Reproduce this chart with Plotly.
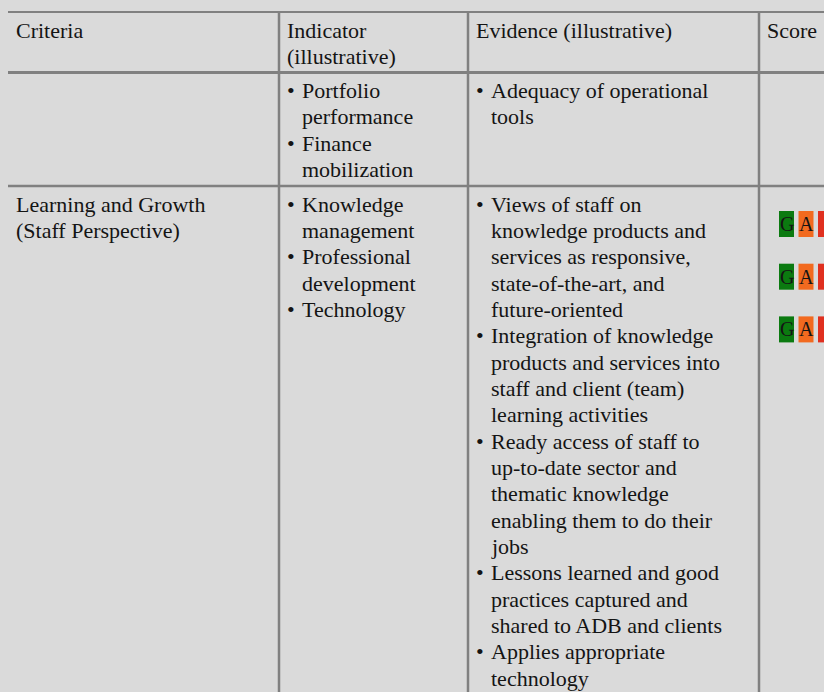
import plotly.graph_objects as go

# ---------------- data ----------------
header_lines = [
    ["Criteria"],
    ["Indicator", "(illustrative)"],
    ["Evidence (illustrative)"],
    ["Score"],
]

row1_criteria = []
row1_indicators = [["Portfolio", "performance"], ["Finance", "mobilization"]]
row1_evidence = [["Adequacy of operational", "tools"]]

row2_criteria = ["Learning and Growth", "(Staff Perspective)"]
row2_indicators = [["Knowledge", "management"], ["Professional", "development"], ["Technology"]]
row2_evidence = [
    ["Views of staff on", "knowledge products and", "services as responsive,",
     "state-of-the-art, and", "future-oriented"],
    ["Integration of knowledge", "products and services into",
     "staff and client (team)", "learning activities"],
    ["Ready access of staff to", "up-to-date sector and", "thematic knowledge",
     "enabling them to do their", "jobs"],
    ["Lessons learned and good", "practices captured and",
     "shared to ADB and clients"],
    ["Applies appropriate", "technology"],
]

score_labels = ["G", "A", "R"]
score_colors = ["#0b7a10", "#f26a1f", "#e0301f"]

# ---------------- layout constants ----------------
W, H = 824, 692
BG = "#dadada"
LINE = "#808080"
TXT = "#141414"
FONT = "Liberation Serif, Times New Roman, serif"
FS = 22
LH = 26.35
col_lines = [279, 468, 759]
col_left = [8, 279, 468, 759]
pad = 6
bullet_indent = 15
top_y, head_y, row1_y = 12, 72.5, 186
base_off = 25.5          # first baseline below a rule
mid_shift = 7.5          # baseline -> annotation middle

ann = []
shapes = []


def add_line(x, baseline, text, size=FS):
    ann.append(dict(x=x, y=baseline - mid_shift, xref="x", yref="y", text=text,
                    showarrow=False, xanchor="left", yanchor="middle",
                    font=dict(family=FONT, size=size, color=TXT)))


def add_block(col, start_baseline, lines):
    for i, t in enumerate(lines):
        add_line(col_left[col] + pad, start_baseline + i * LH, t)
    return len(lines)


def add_bullets(col, start_baseline, items):
    starts = []
    n = 0
    for item in items:
        b = start_baseline + n * LH
        starts.append(b)
        add_line(col_left[col] + pad - 0.5, b, "•")
        for j, t in enumerate(item):
            add_line(col_left[col] + pad + bullet_indent, b + j * LH, t)
        n += len(item)
    return starts


# header
hb = top_y + base_off
for c, lines in enumerate(header_lines):
    add_block(c, hb, lines)

# row 1
r1 = head_y + base_off
add_block(0, r1, row1_criteria)
add_bullets(1, r1, row1_indicators)
add_bullets(2, r1, row1_evidence)

# row 2
r2 = row1_y + base_off
add_block(0, r2, row2_criteria)
starts = add_bullets(1, r2, row2_indicators)
add_bullets(2, r2, row2_evidence)

# score boxes aligned to each indicator
box_w, box_gap, box_h = 15, 4.5, 26
for b in starts:
    top = b - 0.5
    for k, (lab, colr) in enumerate(zip(score_labels, score_colors)):
        x0 = col_lines[2] + 20 + k * (box_w + box_gap)
        shapes.append(dict(type="rect", xref="x", yref="y", x0=x0, x1=x0 + box_w,
                           y0=top, y1=top + box_h, fillcolor=colr,
                           line=dict(width=0), layer="below"))
        ann.append(dict(x=x0 + box_w / 2, y=top + box_h / 2, xref="x", yref="y",
                        text=lab, showarrow=False, xanchor="center", yanchor="middle",
                        font=dict(family=FONT, size=20, color=TXT)))

# rules
for y, w in [(top_y, 2), (head_y, 3), (row1_y, 2.5)]:
    shapes.append(dict(type="line", xref="x", yref="y", x0=8, x1=W, y0=y, y1=y,
                       line=dict(color=LINE, width=w)))
for x in col_lines:
    shapes.append(dict(type="line", xref="x", yref="y", x0=x, x1=x, y0=top_y, y1=H,
                       line=dict(color=LINE, width=2.5)))

fig = go.Figure()
fig.update_layout(
    width=W, height=H, margin=dict(l=0, r=0, t=0, b=0),
    paper_bgcolor=BG, plot_bgcolor=BG,
    xaxis=dict(range=[0, W], visible=False, fixedrange=True),
    yaxis=dict(range=[H, 0], visible=False, fixedrange=True),
    annotations=ann, shapes=shapes, showlegend=False,
)
fig.write_html(
    "out.html",
    config={"displayModeBar": False},
    post_script="document.body.style.margin='0';document.body.style.overflow='hidden';"
                "document.body.style.background='#dadada';",
)
